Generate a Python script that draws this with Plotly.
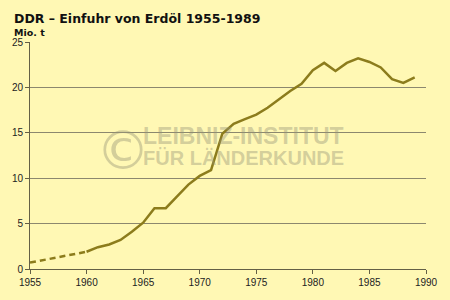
import plotly.graph_objects as go

est_years = [1955, 1960]
est_values = [0.7, 1.9]

years = list(range(1960, 1990))
values = [1.9, 2.4, 2.7, 3.2, 4.1, 5.1, 6.7, 6.7, 8.0, 9.3,
          10.25, 10.9, 14.9, 16.0, 16.5, 17.0, 17.75, 18.7, 19.6, 20.4,
          21.9, 22.7, 21.8, 22.7, 23.2, 22.8, 22.2, 20.9, 20.5, 21.1]

x_ticks = [1955, 1960, 1965, 1970, 1975, 1980, 1985, 1990]
y_ticks = [0, 5, 10, 15, 20, 25]

title = "DDR – Einfuhr von Erdöl 1955-1989"
unit = "Mio. t"
wm1 = "LEIBNIZ-INSTITUT"
wm2 = "FÜR LÄNDERKUNDE"

bg = "rgb(255,248,180)"
line_col = "rgb(140,124,28)"
grid_col = "rgb(140,136,110)"
axis_col = "rgb(100,96,70)"
wm_col = "rgba(150,148,120,0.42)"

fig = go.Figure()
fig.add_trace(go.Scatter(x=est_years, y=est_values, mode="lines",
                         line=dict(color=line_col, width=2.5, dash="6px,4px"),
                         hoverinfo="skip", showlegend=False))
fig.add_trace(go.Scatter(x=years, y=values, mode="lines",
                         line=dict(color=line_col, width=2.5),
                         showlegend=False))

tick_font = dict(family="Liberation Sans, Arial, sans-serif", size=10, color="#222")
wm_font = "Liberation Sans, Arial, sans-serif"

fig.update_layout(
    width=450, height=300,
    margin=dict(l=28, r=17, t=42, b=20),
    paper_bgcolor=bg, plot_bgcolor=bg,
    xaxis=dict(range=[1955, 1990], tickvals=x_ticks, showgrid=False,
               showline=True, linecolor=axis_col, linewidth=1,
               ticks="outside", ticklen=4, tickcolor=axis_col,
               tickfont=tick_font, zeroline=False, fixedrange=True),
    yaxis=dict(range=[0, 25], tickvals=y_ticks, showgrid=True,
               gridcolor=grid_col, gridwidth=1,
               showline=True, linecolor=axis_col, linewidth=1,
               ticks="outside", ticklen=4, tickcolor=axis_col,
               tickfont=tick_font, zeroline=False, fixedrange=True),
    annotations=[
        dict(text=title, xref="paper", yref="paper",
             x=-0.0444, y=1.105, xanchor="left", yanchor="middle",
             showarrow=False,
             font=dict(family="DejaVu Sans, Verdana, sans-serif", size=12.5,
                       color="#111", weight="bold")),
        dict(text=unit, xref="paper", yref="paper",
             x=-0.0444, y=1.04, xanchor="left", yanchor="middle",
             showarrow=False,
             font=dict(family="DejaVu Sans, Verdana, sans-serif", size=9.5,
                       color="#111", weight="bold")),
        dict(text=wm1, xref="paper", yref="paper",
             x=0.5395, y=0.584, xanchor="center", yanchor="middle", showarrow=False,
             font=dict(family=wm_font, size=23, color=wm_col, weight="bold")),
        dict(text=wm2, xref="paper", yref="paper",
             x=0.5395, y=0.487, xanchor="center", yanchor="middle", showarrow=False,
             font=dict(family=wm_font, size=20, color=wm_col, weight="bold")),
        dict(text="©", xref="paper", yref="paper",
             x=0.2346, y=0.521, xanchor="center", yanchor="middle", showarrow=False,
             font=dict(family="DejaVu Sans, sans-serif", size=54, color=wm_col)),
    ],
)

fig.write_html("out.html")
